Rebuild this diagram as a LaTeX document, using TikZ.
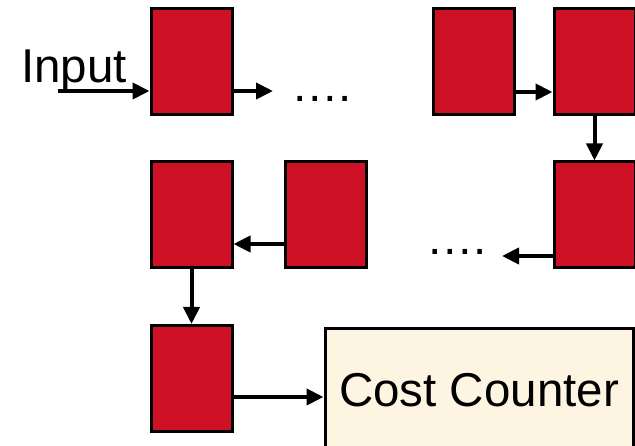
\documentclass[tikz,border=0pt]{standalone}
\usepackage{fontspec}
\setmainfont{Liberation Sans}
\usetikzlibrary{arrows.meta}
\definecolor{rouge}{RGB}{206,17,38}
\definecolor{creme}{RGB}{253,245,226}
\begin{document}
\begin{tikzpicture}[x=1pt, y=-1pt,
    cellule/.style={draw=black, fill=rouge, line width=3pt, minimum width=81pt, minimum height=106pt, inner sep=0pt},
    fleche/.style={line width=4pt, -{Triangle[length=17pt,width=16pt]}},
    texte/.style={font=\fontsize{47.5}{52}\selectfont, inner sep=0pt}]
    % Cadre de l'image
    \clip (0,0) rectangle (635,446);

    % Première rangée
    \node[cellule] (A) at (191.5,62) {};
    \node[cellule] (B) at (473.5,62) {};
    \node[cellule] (C) at (594.5,62) {};

    % Deuxième rangée
    \node[cellule] (D) at (191.5,215) {};
    \node[cellule] (E) at (326,215) {};
    \node[cellule] (F) at (594.5,215) {};

    % Dernière cellule et compteur
    \node[cellule] (G) at (191.5,378.5) {};
    \node[draw=black, fill=creme, line width=3pt, minimum width=308pt, minimum height=123pt,
          font=\fontsize{47.5}{52}\selectfont, inner sep=0pt] (CC) at (479,390.5) {Cost Counter};

    % Textes
    \node[texte, anchor=base west] (entree) at (21,83) {Input};
    \node[texte, anchor=base west] (points1) at (291,101.5) {….};
    \node[texte, anchor=base west] (points2) at (426,254.5) {….};

    % Bouts libres des flèches
    \coordinate (in1) at (58,91);
    \coordinate (fin1) at (273,91);
    \coordinate (fin2) at (502,256);
    \path ([yshift=-18.5pt]G.east) coordinate (g1);

    % Flèches
    \draw[fleche] (in1) -- (in1 -| A.west);
    \draw[fleche] (A.east |- in1) -- (fin1);
    \draw[fleche] ([yshift=-30pt]B.east) -- ([yshift=-30pt]C.west);
    \draw[fleche] (C.south) -- (F.north);
    \draw[fleche] ([yshift=-41pt]F.west) -- (fin2);
    \draw[fleche] ([yshift=-29pt]E.west) -- ([yshift=-29pt]D.east);
    \draw[fleche] (D.south) -- (G.north);
    \draw[fleche] (g1) -- (g1 -| CC.west);
\end{tikzpicture}
\end{document}
